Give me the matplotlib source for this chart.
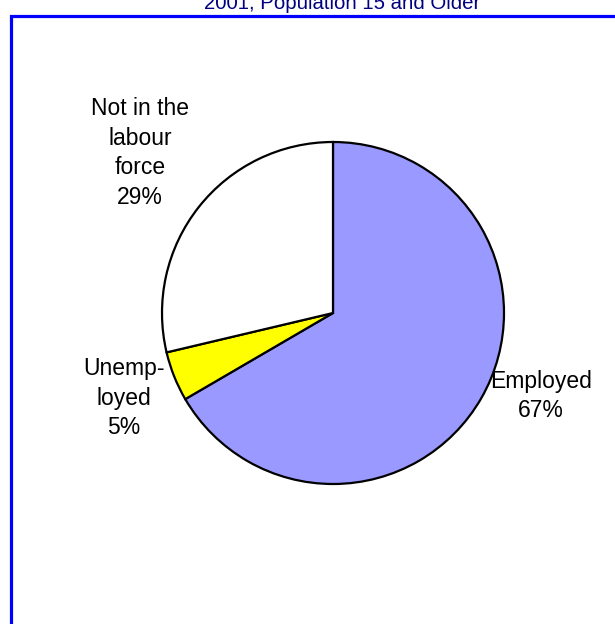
import matplotlib
matplotlib.use("Agg")
import matplotlib.pyplot as plt
from matplotlib.patches import Rectangle

plt.rcParams['font.family'] = ['Liberation Sans', 'DejaVu Sans']

# data
title = "2001, Population 15 and Older"
categories = ["Employed", "Unemployed", "Not in the labour force"]
label_text = ["Employed", "Unemp-\nloyed", "Not in the\nlabour\nforce"]
shares = [66.6, 4.7, 28.7]
colors = ["#9999FF", "#FFFF00", "#FFFFFF"]

W, H = 615, 624
fig = plt.figure(figsize=(W / 100, H / 100), dpi=100)
ax = fig.add_axes([0, 0, 1, 1])

# pie in pixel-like coordinates (y up)
cx, cy, r = 333, H - 313, 171
wedges, _ = ax.pie(shares, colors=colors, startangle=90, counterclock=False,
                   center=(cx, cy), radius=r,
                   wedgeprops=dict(edgecolor="black", linewidth=1.6))
ax.set_xlim(0, W)
ax.set_ylim(0, H)
ax.set_aspect("equal")
ax.axis("off")

# labels
label_pos = [(541, H - 396), (124, H - 398), (140, H - 153)]
for txt, v, (x, y) in zip(label_text, shares, label_pos):
    ax.text(x, y, f"{txt}\n{round(v)}%", ha="center", va="center",
            fontsize=16.5, linespacing=1.36, color="black")

# blue border (cut by the figure edges)
fig.patches.append(Rectangle((11 / W, -0.05), 1.2, 1 - 15.5 / H + 0.05,
                             transform=fig.transFigure, fill=False,
                             edgecolor="#0000FF", linewidth=2.3))

# title, partially cut off at the top
fig.text(342 / W, 1 - 9 / H, title, ha="center", va="baseline",
         fontsize=14.7, color="#000080")

fig.savefig("out.png", dpi=100, facecolor="white")
